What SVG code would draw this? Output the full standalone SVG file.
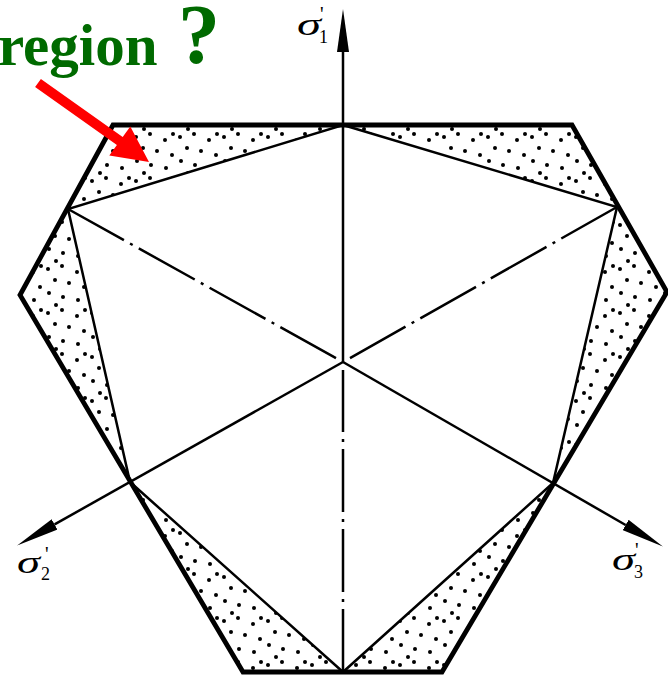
<svg xmlns="http://www.w3.org/2000/svg" width="668" height="678" viewBox="0 0 668 678">
<style>
.outer{fill:none;stroke:#000;stroke-width:4.8;stroke-linejoin:miter}
.inner{fill:none;stroke:#000;stroke-width:2.5;stroke-linejoin:miter}
.axis{fill:none;stroke:#000;stroke-width:2.5}
.dd{fill:none;stroke:#000;stroke-width:2.5}
.sig{font-family:"Liberation Serif",serif;font-style:italic;font-size:31px;fill:#000}
.sub{font-family:"Liberation Serif",serif;font-size:18px;fill:#000}
.pr{font-family:"Liberation Serif",serif;font-size:20px;fill:#000}
.title{font-family:"Liberation Serif",serif;font-weight:bold;fill:#006a00}
</style>
<defs>
<pattern id="dots" patternUnits="userSpaceOnUse" width="44" height="44">
<g fill="#000">
<circle cx="4" cy="5" r="2"/><circle cx="18" cy="2" r="2"/><circle cx="33" cy="8" r="2"/>
<circle cx="11" cy="16" r="2"/><circle cx="25" cy="19" r="2"/><circle cx="40" cy="23" r="2"/>
<circle cx="5" cy="29" r="2"/><circle cx="19" cy="33" r="2"/><circle cx="34" cy="36" r="2"/>
<circle cx="12" cy="41" r="2"/><circle cx="41" cy="2" r="2"/>
</g>
</pattern>
<marker id="ah" markerUnits="userSpaceOnUse" markerWidth="44" markerHeight="12" viewBox="0 0 44 12" refX="0" refY="6" orient="auto">
<path d="M0,0 L43,6 L0,12 z" fill="#000"/>
</marker>
</defs>
<g id="stipple">
<path d="M113,125 L572,125 L667,292 L442,672 L243,672 L20,295 Z M343,125 L68,209 L130,482 L343,672 L553,483 L617,207 Z" fill="url(#dots)" fill-rule="evenodd"/>
</g>
<g id="outer-hexagon">
<path class="outer" d="M113,125 L572,125 L667,292 L442,672 L243,672 L20,295 Z"/>
</g>
<g id="inner-hexagon">
<path class="inner" d="M343,125 L617,207 L553,483 L343,672 L130,482 L68,209 Z"/>
</g>
<g id="connectors">
<line class="axis" x1="343" y1="362" x2="343" y2="52" marker-end="url(#ah)"/>
<line class="axis" x1="343" y1="362" x2="54.6" y2="524.4" marker-end="url(#ah)"/>
<line class="axis" x1="343" y1="362" x2="625.6" y2="525" marker-end="url(#ah)"/>
<line class="dd" x1="68" y1="209" x2="336" y2="358.1" stroke-dasharray="64 7 3 7"/>
<line class="dd" x1="617" y1="207" x2="350" y2="358.1" stroke-dasharray="64 7 3 7"/>
<line class="dd" x1="343" y1="672" x2="343" y2="370" stroke-dasharray="63 7 3 7"/>
</g>
<g id="label-s1">
<text class="sig" x="297" y="35" textLength="24" lengthAdjust="spacingAndGlyphs">σ</text><text class="sub" x="319" y="43">1</text><text class="pr" x="320" y="21">'</text>
</g>
<g id="label-s2">
<text class="sig" x="17" y="573" textLength="23" lengthAdjust="spacingAndGlyphs">σ</text><text class="sub" x="41" y="580">2</text><text class="pr" x="45" y="561">'</text>
</g>
<g id="label-s3">
<text class="sig" x="612" y="570" textLength="23" lengthAdjust="spacingAndGlyphs">σ</text><text class="sub" x="634" y="578">3</text><text class="pr" x="635" y="557">'</text>
</g>
<g id="title">
<text class="title" x="-2" y="65" font-size="59">region</text>
<text class="title" x="178" y="63" font-size="84">?</text>
</g>
<g id="red-arrow">
<polygon points="40.9,78.9 122.7,136.9 130.3,126.4 149,162 109.3,155.6 116.9,145.1 35.1,87.1" fill="#ff0000"/>
</g>
</svg>
